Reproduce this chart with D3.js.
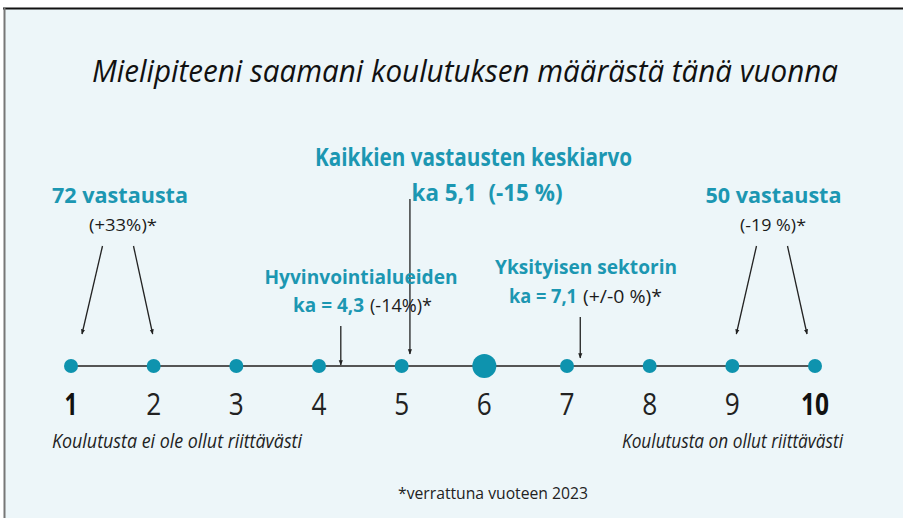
<!DOCTYPE html>
<html><head><meta charset="utf-8">
<script src="https://cdn.jsdelivr.net/npm/d3@7"></script>
<style>
html,body{margin:0;padding:0;background:#fff;}
svg{display:block;}
text{font-family:"Open Sans",sans-serif;white-space:pre;}
</style></head>
<body>
<script>
// ---- data ----
const scalePoints = [1,2,3,4,5,6,7,8,9,10];
const boldPoints = [1,10];
const bigPoint = 6;
const overallMean = 5.1;
const welfareMean = 4.3;
const privateMean = 7.1;
const leftCountPoints = [1,2];
const rightCountPoints = [9,10];
const titleText = "Mielipiteeni saamani koulutuksen määrästä tänä vuonna";
const overallLabel = ["Kaikkien vastausten keskiarvo", "ka 5,1  (-15 %)"];
const leftCount = ["72 vastausta", "(+33%)*"];
const rightCount = ["50 vastausta", "(-19 %)*"];
const welfareLabel = ["Hyvinvointialueiden", "ka = 4,3", "(-14%)*"];
const privateLabel = ["Yksityisen sektorin", "ka = 7,1", "(+/-0 %)*"];
const endLabels = ["Koulutusta ei ole ollut riittävästi", "Koulutusta on ollut riittävästi"];
const footnote = "*verrattuna vuoteen 2023";

const W = 904, H = 518;
const teal = "#1c97b2", dot = "#0e93ae", dark = "#1b1b1b";
const svg = d3.select("body").append("svg").attr("width", W).attr("height", H);

svg.append("defs").append("marker").attr("id","ah").attr("viewBox","0 0 10 10")
  .attr("refX",9).attr("refY",5).attr("markerWidth",4).attr("markerHeight",4).attr("orient","auto")
  .append("path").attr("d","M0,1 L10,5 L0,9 Z").attr("fill","#222");

// panel
svg.append("rect").attr("x",4).attr("y",8).attr("width",W-5).attr("height",H-8).attr("fill","#edf6f9");
svg.append("line").attr("x1",3).attr("x2",W-1).attr("y1",8.5).attr("y2",8.5).attr("stroke","#111").attr("stroke-width",2);
svg.append("line").attr("x1",4.5).attr("x2",4.5).attr("y1",8).attr("y2",H).attr("stroke","#777").attr("stroke-width",2);

const x = d3.scaleLinear().domain([1,10]).range([71,815]);
const lineY = 366;

function txt(t, cx, y, opts){
  const e = svg.append("text").attr("x",cx).attr("y",y).attr("text-anchor",opts.anchor||"middle")
    .attr("font-size",opts.size).attr("font-weight",opts.weight||400).attr("fill",opts.fill||dark)
    .attr("font-style",opts.style||"normal").text(t);
  if(opts.len){ e.attr("textLength",opts.len).attr("lengthAdjust","spacingAndGlyphs"); }
  return e;
}

// title
txt(titleText, 465, 82, {size:31, style:"italic", weight:400, len:746, fill:"#111"});

// axis line
svg.append("line").attr("x1",x(1)).attr("x2",x(10)).attr("y1",lineY).attr("y2",lineY)
  .attr("stroke","#555").attr("stroke-width",2);

// dots
svg.selectAll("circle.pt").data(scalePoints).join("circle").attr("class","pt")
  .attr("cx",d=>x(d)).attr("cy",lineY).attr("r",d=>d===bigPoint?12:7).attr("fill",dot);

// numbers
svg.selectAll("text.num").data(scalePoints).join("text").attr("class","num")
  .attr("x",d=>x(d)).attr("y",415).attr("text-anchor","middle")
  .attr("font-size",31).attr("font-weight",d=>boldPoints.includes(d)?700:400)
  .attr("fill",d=>boldPoints.includes(d)?"#111":"#222")
  .attr("textLength",d=>d>=10?28:(boldPoints.includes(d)?13:15)).attr("lengthAdjust","spacingAndGlyphs")
  .text(d=>d);

// end labels
txt(endLabels[0], 52, 448, {anchor:"start", size:19.5, style:"italic", len:250, fill:"#222"});
txt(endLabels[1], 622, 448, {anchor:"start", size:19.5, style:"italic", len:221, fill:"#222"});
txt(footnote, 493, 499, {size:16, len:190, fill:"#222"});

// overall mean
txt(overallLabel[0], 473.5, 166, {size:25, weight:700, fill:teal, len:317});
txt(overallLabel[1], 487, 201, {size:24, weight:700, fill:teal, len:151});
svg.append("line").attr("x1",x(overallMean)).attr("x2",x(overallMean)).attr("y1",199).attr("y2",lineY-12)
  .attr("stroke","#222").attr("stroke-width",1.3).attr("marker-end","url(#ah)");

// counts
txt(leftCount[0], 120, 203, {size:22, weight:700, fill:teal, len:136});
txt(leftCount[1], 123, 231, {size:17, len:68});
txt(rightCount[0], 773.5, 203, {size:22, weight:700, fill:teal, len:136});
txt(rightCount[1], 773, 231, {size:17, len:66});

function fan(points, cx, offs){
  points.forEach((p,i)=>{
    const sx = cx + (i===0?-15.5:15.5);
    svg.append("line").attr("x1",sx).attr("y1",246).attr("x2",x(p)+offs[i]).attr("y2",334)
      .attr("stroke","#222").attr("stroke-width",1.3).attr("marker-end","url(#ah)");
  });
}
fan(leftCountPoints, 118, [11,-1]);
fan(rightCountPoints, 772, [4,-8]);

// welfare
txt(welfareLabel[0], 361, 284, {size:20, weight:700, fill:teal, len:193});
const w2 = svg.append("text").attr("x",293).attr("y",312).attr("font-size",19);
w2.append("tspan").attr("font-weight",700).attr("fill",teal).attr("textLength",71).attr("lengthAdjust","spacingAndGlyphs").text(welfareLabel[1]);
w2.append("tspan").attr("fill",dark).attr("x",370).attr("textLength",62).attr("lengthAdjust","spacingAndGlyphs").text(welfareLabel[2]);
svg.append("line").attr("x1",x(welfareMean)-3).attr("x2",x(welfareMean)-3).attr("y1",326).attr("y2",lineY-1)
  .attr("stroke","#222").attr("stroke-width",1.3).attr("marker-end","url(#ah)");

// private
txt(privateLabel[0], 586, 274, {size:20, weight:700, fill:teal, len:182});
const p2 = svg.append("text").attr("x",509).attr("y",303).attr("font-size",19);
p2.append("tspan").attr("font-weight",700).attr("fill",teal).attr("textLength",68).attr("lengthAdjust","spacingAndGlyphs").text(privateLabel[1]);
p2.append("tspan").attr("fill",dark).attr("x",583).attr("textLength",79).attr("lengthAdjust","spacingAndGlyphs").text(privateLabel[2]);
svg.append("line").attr("x1",x(privateMean)+5).attr("x2",x(privateMean)+5).attr("y1",317).attr("y2",lineY-8)
  .attr("stroke","#222").attr("stroke-width",1.3).attr("marker-end","url(#ah)");
</script>
</body></html>
